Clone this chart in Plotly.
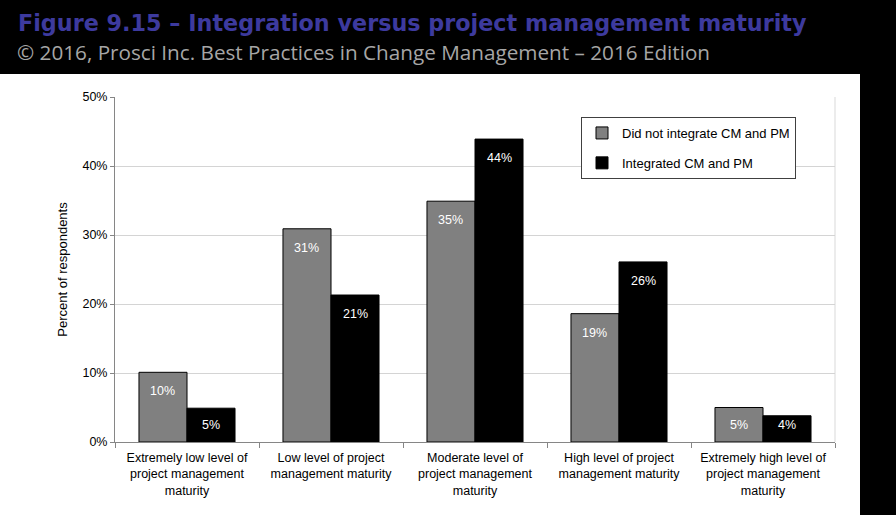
import plotly.graph_objects as go

categories = [
    "Extremely low level of<br>project management<br>maturity",
    "Low level of project<br>management maturity",
    "Moderate level of<br>project management<br>maturity",
    "High level of project<br>management maturity",
    "Extremely high level of<br>project management<br>maturity",
]
series_names = ["Did not integrate CM and PM", "Integrated CM and PM"]
not_integrated = [10.1, 30.9, 34.9, 18.6, 5.0]
integrated = [4.9, 21.3, 43.9, 26.1, 3.8]
y_ticks = [0, 10, 20, 30, 40, 50]
y_tick_labels = ["0%", "10%", "20%", "30%", "40%", "50%"]

title_text = "Figure 9.15 – Integration versus project management maturity"
subtitle_text = "© 2016, Prosci Inc. Best Practices in Change Management – 2016 Edition"

W, H = 896, 515
ML, MR, MT, MB = 115, 61, 97, 73
plot_w = W - ML - MR
plot_h = H - MT - MB
px_per_unit = plot_h / 50.0

FONT = "Liberation Sans, Arial, sans-serif"

fig = go.Figure()
colors = ["#808080", "#000000"]
for name, vals, col, grp in zip(series_names, [not_integrated, integrated], colors, ["a", "b"]):
    fig.add_trace(go.Bar(
        x=categories, y=vals, name=name, legendgroup=grp,
        marker=dict(color=col, line=dict(color="#000000", width=1)),
        hoverinfo="skip",
    ))

# data labels
bar_px = plot_w / 5 * (1 - 0.333) / 2
annotations = []
for vals, sgn in [(not_integrated, -1), (integrated, 1)]:
    for cat, v in zip(categories, vals):
        top_px = v * px_per_unit
        if top_px - 19 < 17:
            y, ys = 0, 17
        else:
            y, ys = v, -19
        annotations.append(dict(
            x=cat, y=y, xref="x", yref="y", text=f"{round(v):d}%",
            showarrow=False, xshift=sgn * bar_px / 2, yshift=ys,
            font=dict(family=FONT, size=12.5, color="white"),
        ))

# titles
annotations.append(dict(
    text="<b>" + title_text + "</b>", xref="paper", yref="paper",
    x=(16 - ML) / plot_w, y=(H - MB - 23) / plot_h, xanchor="left", yanchor="middle",
    showarrow=False, font=dict(family="DejaVu Sans, sans-serif", size=22.3, color="#3d3a9e"),
))
annotations.append(dict(
    text=subtitle_text, xref="paper", yref="paper",
    x=(15 - ML) / plot_w, y=(H - MB - 52) / plot_h, xanchor="left", yanchor="middle",
    showarrow=False, font=dict(family="Open Sans, sans-serif", size=20.7, color="#a6a6a6"),
))

shapes = [
    dict(type="rect", xref="paper", yref="paper", layer="below",
         x0=(0 - ML) / plot_w, x1=(860 - ML) / plot_w,
         y0=(H - MB - 515) / plot_h, y1=(H - MB - 74) / plot_h,
         fillcolor="white", line=dict(width=0)),
    dict(type="line", xref="paper", yref="paper", x0=1, x1=1, y0=0, y1=1,
         line=dict(color="#d9d9d9", width=1), layer="below"),
]

fig.update_layout(
    width=W, height=H,
    margin=dict(l=ML, r=MR, t=MT, b=MB, pad=0),
    paper_bgcolor="black", plot_bgcolor="white",
    barmode="group", bargap=0.333, bargroupgap=0,
    font=dict(family=FONT, size=12, color="black"),
    showlegend=True,
    legend=dict(
        x=(581 - ML) / plot_w, y=(H - MB - 117) / plot_h, xanchor="left", yanchor="top",
        bgcolor="white", bordercolor="#404040", borderwidth=1,
        font=dict(family=FONT, size=13, color="black"),
        traceorder="grouped", tracegroupgap=10,
    ),
    annotations=annotations,
    shapes=shapes,
    xaxis=dict(
        showgrid=False, showline=True, linecolor="#868686", linewidth=1,
        ticks="outside", tickson="boundaries", ticklen=5, tickcolor="#868686",
        ticklabelstandoff=4,
        tickfont=dict(family=FONT, size=12.5, color="black"),
        fixedrange=True,
    ),
    yaxis=dict(
        range=[0, 50], tickvals=y_ticks, ticktext=y_tick_labels,
        showgrid=True, gridcolor="#d4d4d4", gridwidth=1,
        showline=True, linecolor="#868686", linewidth=1,
        ticks="outside", ticklen=4, tickcolor="#868686",
        tickfont=dict(family=FONT, size=12.5, color="black"),
        title=dict(text="Percent of respondents", standoff=11,
                   font=dict(family=FONT, size=13, color="black")),
        zeroline=False, fixedrange=True,
    ),
)

fig.write_html("out.html", config={"displayModeBar": False})
